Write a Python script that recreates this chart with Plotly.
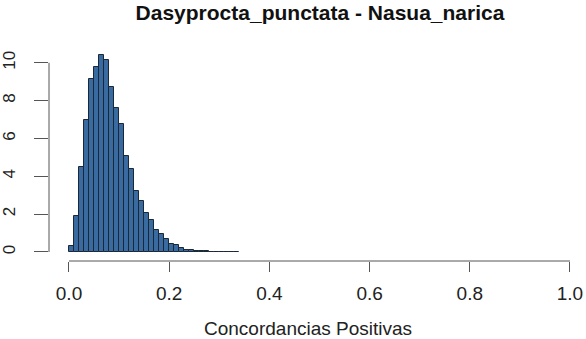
import plotly.graph_objects as go

# Histogram (density) of positive concordances, bin width 0.01
bin_width = 0.01
bin_starts = [round(i * bin_width, 2) for i in range(34)]
density = [0.30, 1.89, 4.50, 7.00, 9.12, 9.76, 10.40, 10.14, 8.73, 7.59,
           6.79, 5.06, 4.41, 3.23, 2.70, 2.08, 1.68, 1.15, 0.97, 0.67,
           0.44, 0.35, 0.23, 0.13, 0.08, 0.05, 0.04, 0.03, 0.02, 0.02,
           0.01, 0.01, 0.01, 0.01]
x_ticks = [0.0, 0.2, 0.4, 0.6, 0.8, 1.0]
x_tick_labels = ["0.0", "0.2", "0.4", "0.6", "0.8", "1.0"]
y_ticks = [0, 2, 4, 6, 8, 10]
y_tick_labels = ["0", "2", "4", "6", "8", "10"]
title_text = "Dasyprocta_punctata - Nasua_narica"
x_title = "Concordancias Positivas"

centers = [s + bin_width / 2 for s in bin_starts]

fig = go.Figure(go.Bar(
    x=centers, y=density, width=bin_width,
    marker=dict(color="#3A6BA0", line=dict(color="#1b2838", width=1)),
))

axis_col = "#555555"
font_fam = "Liberation Sans, Arial, sans-serif"

fig.update_layout(
    width=586, height=339,
    margin=dict(l=49, r=0, t=45, b=78),
    paper_bgcolor="white", plot_bgcolor="white",
    bargap=0, showlegend=False,
    font=dict(family=font_fam, color="#222222"),
    title=dict(text="<b>" + title_text + "</b>", xref="container", yref="container",
               x=320 / 586, y=1 - 13 / 339, xanchor="center", yanchor="middle",
               font=dict(size=21, color="#111111", family=font_fam)),
    xaxis=dict(range=[-0.0399, 1.032], showgrid=False, zeroline=False, showline=False,
               tickvals=x_ticks, ticktext=x_tick_labels, ticks="outside", ticklen=10,
               tickcolor=axis_col, tickwidth=1, tickfont=dict(size=19, color="#222222"),
               ticklabelstandoff=5),
    yaxis=dict(range=[-0.476, 10.94], showgrid=False, zeroline=False, showline=False,
               tickvals=y_ticks, ticktext=y_tick_labels, ticks="outside", ticklen=14,
               tickcolor=axis_col, tickwidth=1, tickangle=-90,
               tickfont=dict(size=17, color="#222222"), ticklabelstandoff=12),
    shapes=[
        dict(type="line", xref="x", yref="paper", x0=0, x1=1, y0=0, y1=0,
             line=dict(color=axis_col, width=1)),
        dict(type="line", xref="paper", yref="y", x0=0, x1=0, y0=0, y1=10,
             line=dict(color=axis_col, width=1)),
    ],
    annotations=[
        dict(text=x_title, xref="paper", yref="paper", x=0.4814, y=-0.312,
             xanchor="center", yanchor="middle", showarrow=False,
             font=dict(size=19, color="#222222", family=font_fam)),
    ],
)

fig.write_html("out.html",
               config={"displayModeBar": False},
               post_script="document.body.style.margin='0';document.body.style.overflow='hidden';")
